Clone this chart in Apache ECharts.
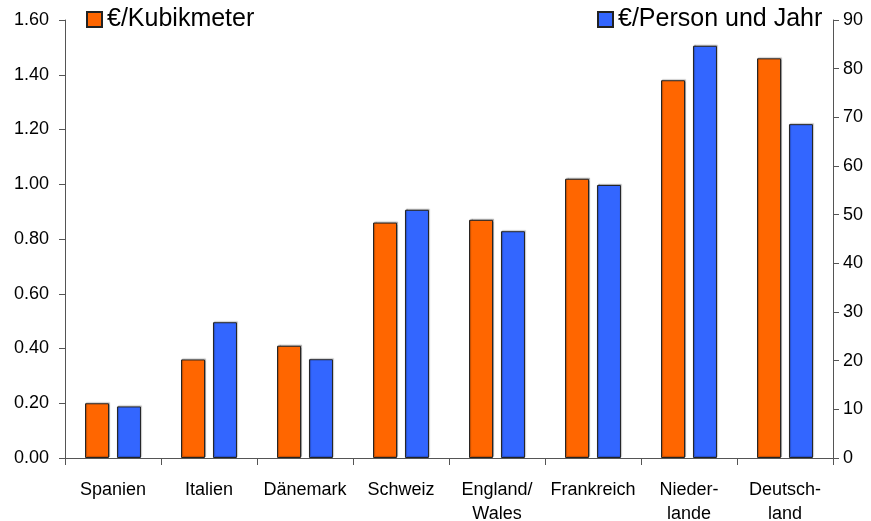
<!DOCTYPE html>
<html><head><meta charset="utf-8">
<script src="https://cdn.jsdelivr.net/npm/echarts@6/dist/echarts.min.js"></script>
<style>html,body{margin:0;padding:0;background:#fff}#c{width:871px;height:521px}</style>
</head><body><div id="c"></div>
<script>
const categories = ['Spanien','Italien','Dänemark','Schweiz','England/\nWales','Frankreich','Nieder-\nlande','Deutsch-\nland'];
const perCubic = [0.20,0.36,0.41,0.86,0.87,1.02,1.38,1.46];
const perPerson = [10.6,27.9,20.3,51.0,46.6,56.1,84.7,68.6];
const seriesNames = ['€/Kubikmeter','€/Person und Jahr'];

const font = 'Liberation Sans, Arial, sans-serif';
const axisCol = '#555';
const chart = echarts.init(document.getElementById('c'));
chart.setOption({
  animation:false,
  textStyle:{fontFamily:font},
  legend:[
    {data:[seriesNames[0]], left:86, top:7, padding:0, icon:'rect', itemWidth:15, itemHeight:15, itemGap:0,
     textStyle:{fontSize:25, color:'#000', fontFamily:font}},
    {data:[seriesNames[1]], left:597, top:7, padding:0, icon:'rect', itemWidth:15, itemHeight:15, itemGap:0,
     textStyle:{fontSize:25, color:'#000', fontFamily:font}}
  ],
  grid:{left:65, right:38, top:20, bottom:63, outerBoundsMode:'none', containLabel:false},
  xAxis:{type:'category', data:categories,
    axisLine:{lineStyle:{color:axisCol}},
    axisTick:{show:true, length:7, lineStyle:{color:axisCol}},
    axisLabel:{fontSize:18, color:'#000', margin:20, lineHeight:24, fontFamily:font, interval:0}
  },
  yAxis:[
    {type:'value', min:0, max:1.6, interval:0.2, position:'left',
     axisLine:{show:true, lineStyle:{color:axisCol}},
     axisTick:{show:true, length:6, lineStyle:{color:axisCol}},
     splitLine:{show:false},
     axisLabel:{fontSize:18, color:'#000', margin:16, fontFamily:font, formatter:v=>v.toFixed(2)}},
    {type:'value', min:0, max:90, interval:10, position:'right',
     axisLine:{show:true, lineStyle:{color:axisCol}},
     axisTick:{show:true, length:6, lineStyle:{color:axisCol}},
     splitLine:{show:false},
     axisLabel:{fontSize:18, color:'#000', margin:10, fontFamily:font}}
  ],
  series:[
    {name:seriesNames[0], type:'bar', yAxisIndex:0, data:perCubic, barWidth:24, barGap:'33%',
     itemStyle:{color:'#FF6600', borderColor:'#222', borderWidth:1, shadowColor:'rgba(0,0,0,0.25)', shadowOffsetX:1, shadowOffsetY:-1, shadowBlur:1}},
    {name:seriesNames[1], type:'bar', yAxisIndex:1, data:perPerson, barWidth:24, barGap:'33%',
     itemStyle:{color:'#3366FF', borderColor:'#222', borderWidth:1, shadowColor:'rgba(0,0,0,0.25)', shadowOffsetX:1, shadowOffsetY:-1, shadowBlur:1}}
  ]
});
</script></body></html>
